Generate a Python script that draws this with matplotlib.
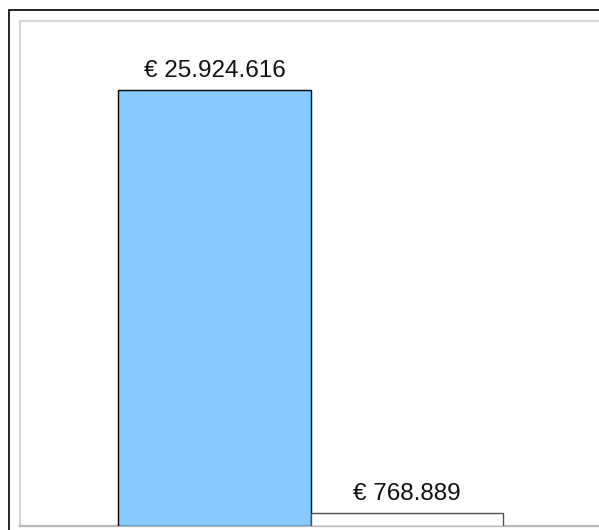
import matplotlib.pyplot as plt
from matplotlib.patches import Rectangle

# values for the two bars
categories = ["A", "B"]
values = [25924616, 768889]
labels = ["€ 25.924.616", "€ 768.889"]
colors = ["#85c9ff", "#ffffff"]
edges = ["#000000", "#505050"]

plt.rcParams['font.family'] = ['Liberation Sans', 'DejaVu Sans']

W, H = 599, 530
fig = plt.figure(figsize=(W / 100, H / 100), dpi=100)

# outer black frame (cropped at right and bottom)
fig.patches.append(Rectangle((9 / W, -0.1), 1.2, (H - 10) / H + 0.1, transform=fig.transFigure,
                             fill=False, edgecolor="black", linewidth=1.2))

ax = fig.add_axes([20 / W, 4 / H, 600 / W, 505 / H])
x = range(len(categories))
ax.bar(x, values, width=1.0, color=colors, edgecolor=edges, linewidth=1.0, zorder=3)
for i, v in enumerate(values):
    ax.annotate(labels[i], (i, v), xytext=(0, 5.5), textcoords="offset points",
                ha="center", va="bottom", fontsize=17.5, color="#111111")

ax.set_ylim(0, 30000000)
ax.set_xlim(-1.01, 2.107)
ax.set_xticks([])
ax.set_yticks([])
for s in ax.spines.values():
    s.set_color("#d4d4d4")
    s.set_linewidth(1.6)
ax.spines["bottom"].set_color("#b8b8b8")

fig.savefig("out.png", dpi=100)
